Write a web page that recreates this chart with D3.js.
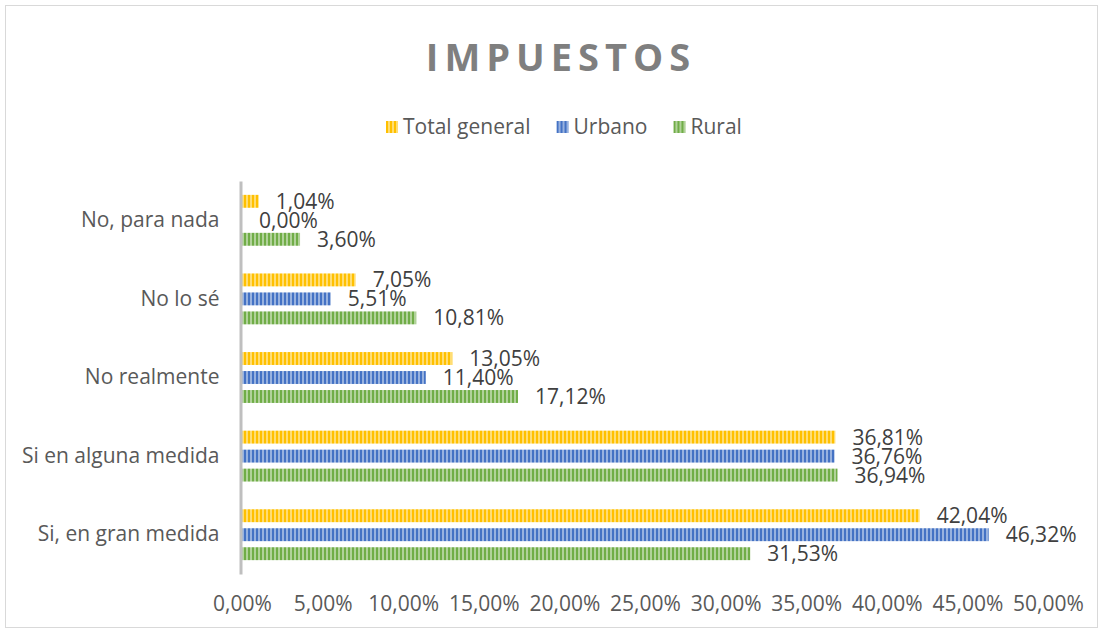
<!DOCTYPE html>
<html>
<head>
<meta charset="utf-8">
<script src="https://cdn.jsdelivr.net/npm/d3@7"></script>
<style>
  body { margin: 0; background: #fff; }
  svg { display: block; font-family: "Open Sans", Lato, sans-serif; }
</style>
</head>
<body>
<div class="container"></div>
<script>
const categories = ["No, para nada", "No lo sé", "No realmente", "Si en alguna medida", "Si, en gran medida"];
const seriesNames = ["Total general", "Urbano", "Rural"];
const totalGeneral = [1.04, 7.05, 13.05, 36.81, 42.04];
const urbano = [0.00, 5.51, 11.40, 36.76, 46.32];
const rural = [3.60, 10.81, 17.12, 36.94, 31.53];
const xTicks = [0, 5, 10, 15, 20, 25, 30, 35, 40, 45, 50];
const colors = ["#ffc000", "#4472c4", "#70ad47"];

const seriesValues = [totalGeneral, urbano, rural];
const rows = [];
categories.forEach((c, i) => {
  seriesNames.forEach((s, j) => rows.push({ cat: c, series: s, idx: j, value: seriesValues[j][i] }));
});

const width = 1104;
const height = 633;
const margin = { top: 181, right: 56, bottom: 59, left: 242 };
const fontSize = 21;

const svg = d3.select(".container").append("svg")
  .attr("width", width)
  .attr("height", height);

// striped fills
const defs = svg.append("defs");
colors.forEach((c, i) => {
  const p = defs.append("pattern")
    .attr("id", "stripe" + i)
    .attr("patternUnits", "userSpaceOnUse")
    .attr("width", 4)
    .attr("height", 4);
  p.append("rect").attr("width", 4).attr("height", 4).attr("fill", c).attr("opacity", 0.55);
  p.append("rect").attr("width", 2).attr("height", 4).attr("fill", c);
});

// chart border
svg.append("rect")
  .attr("x", 5.5).attr("y", 5.5)
  .attr("width", 1092).attr("height", 622)
  .attr("fill", "#fff")
  .attr("stroke", "#d9d9d9");

const x = d3.scaleLinear()
  .domain([0, 50])
  .range([margin.left, width - margin.right]);

const y = d3.scaleBand()
  .domain(categories)
  .range([margin.top, height - margin.bottom]);

const yInner = d3.scaleBand()
  .domain(seriesNames)
  .range([0, y.bandwidth()])
  .paddingInner(0.32)
  .paddingOuter(0.73);

// title
svg.append("text")
  .attr("x", 558 + 3)
  .attr("y", 71)
  .attr("text-anchor", "middle")
  .attr("font-size", 38)
  .attr("font-weight", "bold")
  .attr("letter-spacing", 6)
  .attr("fill", "#7f7f7f")
  .text("IMPUESTOS");

// legend
const legend = svg.append("g").attr("transform", "translate(386,127)");
let lx = 0;
seriesNames.forEach((s, i) => {
  const g = legend.append("g").attr("transform", `translate(${lx},0)`);
  g.append("rect")
    .attr("x", 0).attr("y", -6)
    .attr("width", 12).attr("height", 12)
    .attr("fill", `url(#stripe${i})`);
  const t = g.append("text")
    .attr("x", 17)
    .attr("dy", "0.35em")
    .attr("font-size", fontSize)
    .attr("fill", "#595959")
    .text(s);
  lx += 17 + t.node().getComputedTextLength() + 26;
});

// bars
svg.append("g")
  .selectAll("rect")
  .data(rows)
  .join("rect")
  .attr("x", x(0))
  .attr("y", d => y(d.cat) + yInner(d.series))
  .attr("width", d => x(d.value) - x(0))
  .attr("height", yInner.bandwidth())
  .attr("fill", d => `url(#stripe${d.idx})`);

// data labels
svg.append("g")
  .selectAll("text")
  .data(rows)
  .join("text")
  .attr("x", d => x(d.value) + 17)
  .attr("y", d => y(d.cat) + yInner(d.series) + yInner.bandwidth() / 2)
  .attr("dy", "0.36em")
  .attr("font-size", fontSize)
  .attr("fill", "#404040")
  .text(d => d.value.toFixed(2).replace(".", ",") + "%");

// vertical axis
const yAxis = svg.append("g")
  .attr("transform", `translate(${margin.left - 1.5},0)`)
  .call(d3.axisLeft(y).tickSize(0).tickPadding(21).tickSizeOuter(0));
yAxis.attr("font-family", null).attr("font-size", fontSize);
yAxis.select(".domain").attr("stroke", "#bfbfbf").attr("stroke-width", 3);
yAxis.selectAll("text").attr("fill", "#595959");

// horizontal axis labels
const xAxis = svg.append("g")
  .attr("transform", `translate(0,${height - margin.bottom})`)
  .call(d3.axisBottom(x).tickValues(xTicks).tickSize(0).tickPadding(22)
    .tickFormat(d => d.toFixed(2).replace(".", ",") + "%"));
xAxis.attr("font-family", null).attr("font-size", fontSize);
xAxis.select(".domain").remove();
xAxis.selectAll("text").attr("fill", "#595959");
</script>
</body>
</html>
